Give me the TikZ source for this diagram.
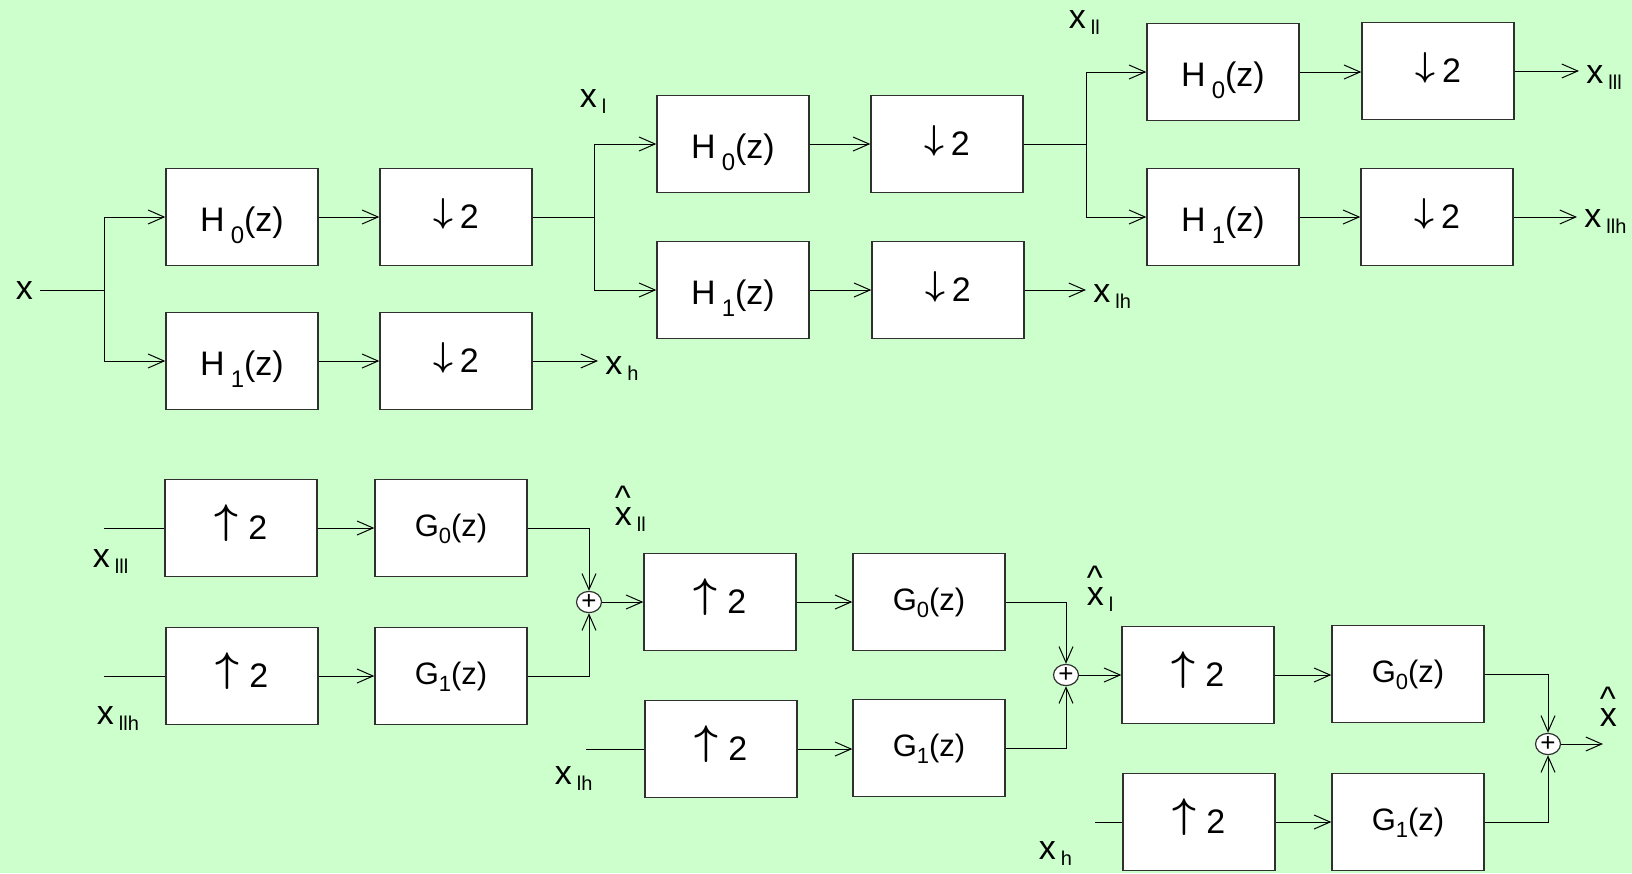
\documentclass[tikz,border=0pt]{standalone}
\usepackage{fontspec}
\setmainfont{Liberation Sans}
\usetikzlibrary{arrows.meta,positioning,shapes.geometric}
\definecolor{FBGreen}{HTML}{CCFFCC}
\definecolor{FBLine}{HTML}{303030}
\newcommand\fbsub[1]{{\fontsize{10}{12}\selectfont #1}}
\newcommand\fbsig[1]{x\hspace{2.5pt}\raisebox{-3pt}{\fbsub{#1}}}
\newcommand\fbcaret{\rlap{\raisebox{8pt}{\textasciicircum}}}
\newcommand\fbH[1]{H\hspace{3pt}\raisebox{-6pt}[0pt][0pt]{\fontsize{12}{14}\selectfont #1}(z)}
\newcommand\fbG[1]{{\fontsize{15.5}{18}\selectfont G\raisebox{-3.8pt}[0pt][0pt]{\fontsize{11}{13}\selectfont #1}(z)}}
\newcommand\fbdown{\raisebox{3.3pt}[0pt][0pt]{\fontsize{18}{22}\selectfont\boldmath$\downarrow$}\hspace{3.5pt}2}
\newcommand\fbup{\raisebox{3pt}[0pt][0pt]{\fontsize{20}{24}\selectfont\boldmath$\uparrow$}\hspace{5pt}2}
\tikzset{
  fbbox/.style={draw=FBLine, fill=white, line width=0.7pt, minimum width=76pt,
                minimum height=48.5pt, inner sep=0pt, font=\fontsize{17}{20}\selectfont},
  fbhbox/.style={fbbox, text height=14.5pt, text depth=0pt},
  fbsum/.style={draw=FBLine, fill=white, ellipse, line width=0.6pt, minimum width=12.5pt,
                minimum height=10.5pt, inner sep=0pt, font=\fontsize{13}{13}\selectfont},
  fblab/.style={anchor=base west, inner xsep=3.5pt, inner ysep=0pt, font=\fontsize{17}{20}\selectfont},
  fbarr/.style={-{Straight Barb[length=8pt,width=7pt]}, line width=0.5pt},
  fbwire/.style={line width=0.5pt}
}

\begin{document}
\begin{tikzpicture}[x=0.5pt, y=-0.5pt]
\useasboundingbox (0,0) rectangle (1632,873);
\fill[FBGreen] (0,0) rectangle (1632,873);

% analysis side
\node[fbhbox] (A1) at (242,217) {\fbH{0}};
\node[fbhbox] (A2) at (242,361) {\fbH{1}};
\node[fbbox] (A3) at (456,217) {\fbdown};
\node[fbbox] (A4) at (456,361) {\fbdown};
\node[fbhbox] (B1) at (733,144) {\fbH{0}};
\node[fbhbox] (B2) at (733,290) {\fbH{1}};
\node[fbbox] (B3) at (947,144) {\fbdown};
\node[fbbox] (B4) at (948,290) {\fbdown};
\node[fbhbox] (C1) at (1223,72) {\fbH{0}};
\node[fbhbox] (C2) at (1223,217) {\fbH{1}};
\node[fbbox] (C3) at (1438,71) {\fbdown};
\node[fbbox] (C4) at (1437,217) {\fbdown};

\node[fblab] (xin) at (8.5,299.5) {x};
\node[fblab] (xh) at (598,374.5) {\fbsig{h}};
\node[fblab] (xl) at (572.5,107.5) {\fbsig{l}};
\node[fblab] (xlh) at (1086,302) {\fbsig{lh}};
\node[fblab] (xll) at (1061.5,28.5) {\fbsig{ll}};
\node[fblab] (xlll) at (1579,83.5) {\fbsig{lll}};
\node[fblab] (xllh) at (1577,227) {\fbsig{llh}};

\coordinate (jA) at (104,290);
\coordinate (jB) at (594,217);
\coordinate (jC) at (1086,144);

\draw[fbwire] (xin.east |- jA) -- (jA);
\draw[fbarr] (jA) |- (A1.west);
\draw[fbarr] (jA) |- (A2.west);
\draw[fbarr] (A1.east) -- (A1.east -| A3.west);
\draw[fbarr] (A2.east) -- (A2.east -| A4.west);
\draw[fbarr] (A4.east) -- (A4.east -| xh.west);
\draw[fbwire] (A3.east) -- (jB);
\draw[fbarr] (jB) |- (B1.west);
\draw[fbarr] (jB) |- (B2.west);
\draw[fbarr] (B1.east) -- (B1.east -| B3.west);
\draw[fbarr] (B2.east) -- (B2.east -| B4.west);
\draw[fbarr] (B4.east) -- (B4.east -| xlh.west);
\draw[fbwire] (B3.east) -- (jC);
\draw[fbarr] (jC) |- (C1.west);
\draw[fbarr] (jC) |- (C2.west);
\draw[fbarr] (C1.east) -- (C1.east -| C3.west);
\draw[fbarr] (C2.east) -- (C2.east -| C4.west);
\draw[fbarr] (C3.east) -- (C3.east -| xlll.west);
\draw[fbarr] (C4.east) -- (C4.east -| xllh.west);

% synthesis side
\node[fbbox] (D1) at (241,528) {\fbup};
\node[fbbox] (D2) at (451,528) {\fbG{0}};
\node[fbbox] (D3) at (242,676) {\fbup};
\node[fbbox] (D4) at (451,676) {\fbG{1}};
\node[fbsum] (S1) at (589,602) {+};
\node[fbbox] (E1) at (720,602) {\fbup};
\node[fbbox] (E2) at (929,602) {\fbG{0}};
\node[fbbox] (E3) at (721,749) {\fbup};
\node[fbbox] (E4) at (929,748) {\fbG{1}};
\node[fbsum] (S2) at (1066,675) {+};
\node[fbbox] (F1) at (1198,675) {\fbup};
\node[fbbox] (F2) at (1408,674) {\fbG{0}};
\node[fbbox] (F3) at (1199,822) {\fbup};
\node[fbbox] (F4) at (1408,822) {\fbG{1}};
\node[fbsum] (S3) at (1548,744) {+};

\coordinate (iD1) at (104,528);
\coordinate (iD3) at (104,676);
\coordinate (iE3) at (586,749);
\coordinate (iF3) at (1095,822);
\coordinate (yout) at (1603,744);

\node[fblab] (xlllb) at (85.5,567.5) {\fbsig{lll}};
\node[fblab] (xllhb) at (89.5,724.5) {\fbsig{llh}};
\node[fblab] (xlhb) at (547.5,784.5) {\fbsig{lh}};
\node[fblab] (xhb) at (1031.5,859.5) {\fbsig{h}};
\node[fblab] (yll) at (607.5,525.5) {\fbcaret\fbsig{ll}};
\node[fblab] (yl) at (1079.5,605.5) {\fbcaret\fbsig{l}};
\node[fblab] (yhat) at (1592.5,726.5) {\fbcaret x};

\draw[fbwire] (iD1) -- (D1.west);
\draw[fbwire] (iD3) -- (D3.west);
\draw[fbwire] (iE3) -- (E3.west);
\draw[fbwire] (iF3) -- (F3.west);
\draw[fbarr] (D1.east) -- (D1.east -| D2.west);
\draw[fbarr] (D3.east) -- (D3.east -| D4.west);
\draw[fbarr] (D2.east) -| (S1.north);
\draw[fbarr] (D4.east) -| (S1.south);
\draw[fbarr] (S1.east) -- (E1.west);
\draw[fbarr] (E1.east) -- (E1.east -| E2.west);
\draw[fbarr] (E3.east) -- (E3.east -| E4.west);
\draw[fbarr] (E2.east) -| (S2.north);
\draw[fbarr] (E4.east) -| (S2.south);
\draw[fbarr] (S2.east) -- (F1.west);
\draw[fbarr] (F1.east) -- (F1.east -| F2.west);
\draw[fbarr] (F3.east) -- (F3.east -| F4.west);
\draw[fbarr] (F2.east) -| (S3.north);
\draw[fbarr] (F4.east) -| (S3.south);
\draw[fbarr] (S3.east) -- (yout);
\end{tikzpicture}
\end{document}
